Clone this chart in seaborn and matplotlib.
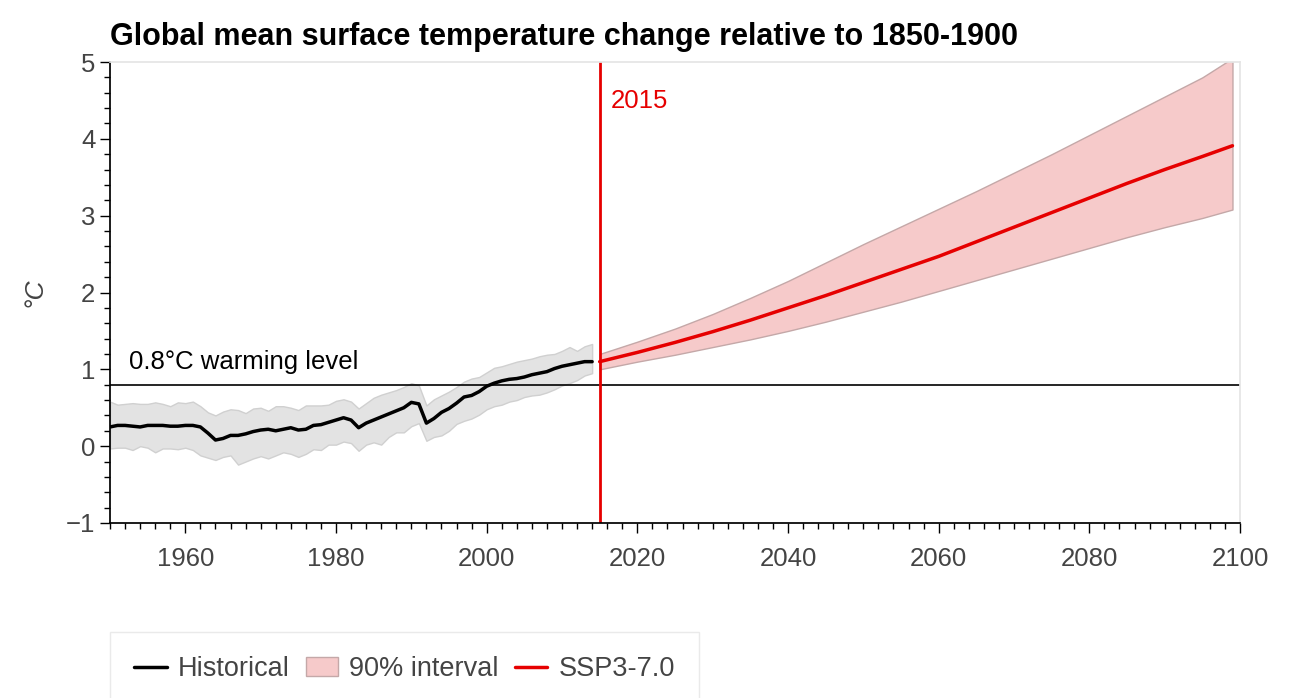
import numpy as np
import pandas as pd
import matplotlib
matplotlib.use("Agg")
import matplotlib.pyplot as plt
import seaborn as sns
from matplotlib.ticker import MultipleLocator

hist_years = list(range(1950, 2015))
hist_mean = [0.25, 0.27, 0.27, 0.26, 0.25, 0.27, 0.27, 0.27, 0.26, 0.26,
             0.27, 0.27, 0.25, 0.17, 0.08, 0.10, 0.14, 0.14, 0.16, 0.19,
             0.21, 0.22, 0.20, 0.22, 0.24, 0.21, 0.22, 0.27, 0.28, 0.31,
             0.34, 0.37, 0.34, 0.24, 0.30, 0.34, 0.38, 0.42, 0.46, 0.50,
             0.57, 0.55, 0.30, 0.36, 0.44, 0.49, 0.56, 0.64, 0.66, 0.71,
             0.78, 0.82, 0.85, 0.87, 0.88, 0.90, 0.93, 0.95, 0.97, 1.01,
             1.04, 1.06, 1.08, 1.10, 1.10]
hist_low = [-0.03, -0.02, -0.02, -0.05, 0.00, -0.02, -0.08, -0.03, -0.03, -0.04,
            -0.02, -0.05, -0.12, -0.15, -0.18, -0.14, -0.12, -0.24, -0.20, -0.16,
            -0.13, -0.16, -0.12, -0.08, -0.10, -0.14, -0.10, -0.04, -0.05, 0.02,
            0.02, 0.06, 0.04, -0.06, 0.02, 0.05, 0.02, 0.12, 0.18, 0.18,
            0.26, 0.30, 0.07, 0.12, 0.14, 0.20, 0.29, 0.33, 0.36, 0.41,
            0.48, 0.52, 0.54, 0.58, 0.60, 0.64, 0.66, 0.67, 0.70, 0.74,
            0.79, 0.82, 0.86, 0.92, 0.95]
hist_high = [0.58, 0.54, 0.55, 0.56, 0.55, 0.55, 0.57, 0.55, 0.52, 0.57,
             0.56, 0.58, 0.52, 0.44, 0.40, 0.45, 0.48, 0.47, 0.43, 0.49,
             0.50, 0.46, 0.52, 0.52, 0.50, 0.47, 0.53, 0.53, 0.53, 0.54,
             0.59, 0.61, 0.58, 0.49, 0.56, 0.63, 0.67, 0.70, 0.73, 0.77,
             0.82, 0.79, 0.53, 0.61, 0.66, 0.71, 0.77, 0.84, 0.88, 0.90,
             0.96, 1.02, 1.04, 1.07, 1.10, 1.12, 1.14, 1.17, 1.19, 1.20,
             1.24, 1.29, 1.24, 1.30, 1.33]

proj_years = [2015, 2020, 2025, 2030, 2035, 2040, 2045, 2050, 2055, 2060,
              2065, 2070, 2075, 2080, 2085, 2090, 2095, 2099]
proj_mean = [1.10, 1.22, 1.35, 1.49, 1.64, 1.80, 1.96, 2.13, 2.30, 2.47,
             2.66, 2.85, 3.04, 3.23, 3.42, 3.60, 3.77, 3.91]
proj_low = [1.00, 1.10, 1.19, 1.29, 1.39, 1.50, 1.62, 1.75, 1.88, 2.02,
            2.16, 2.30, 2.44, 2.58, 2.72, 2.85, 2.97, 3.08]
proj_high = [1.20, 1.36, 1.53, 1.72, 1.93, 2.15, 2.39, 2.63, 2.86, 3.09,
             3.32, 3.56, 3.80, 4.05, 4.30, 4.55, 4.80, 5.05]

sns.set_theme(style="white")
plt.rcParams['font.family'] = ['Liberation Sans', 'DejaVu Sans']

fig = plt.figure(figsize=(12.98, 6.98), dpi=100)
ax = fig.add_axes([110 / 1298, 1 - 523 / 698, 1130 / 1298, 461 / 698])

hist = pd.DataFrame({"year": hist_years, "mean": hist_mean})
proj = pd.DataFrame({"year": proj_years, "mean": proj_mean})

ax.fill_between(hist_years, hist_low, hist_high, color="#e3e3e3", edgecolor="#d0d0d0", lw=1)
band = ax.fill_between(proj_years, proj_low, proj_high, color="#f6caca", edgecolor="#c4a8a8", lw=1)
sns.lineplot(data=hist, x="year", y="mean", color="black", lw=2.5, ax=ax, legend=False)
sns.lineplot(data=proj, x="year", y="mean", color="#e60000", lw=2.5, ax=ax, legend=False)
h_line, p_line = ax.lines[0], ax.lines[1]

ax.axhline(0.8, color="black", lw=1.2)
ax.axvline(2015, color="#e60000", lw=2)
ax.text(2016.5, 4.4, "2015", color="#e60000", fontsize=18.5)
ax.text(1952.5, 1.0, "0.8°C warming level", color="black", fontsize=18.5)

ax.set_xlim(1950, 2100)
ax.set_ylim(-1, 5)
ax.set_xticks(range(1960, 2101, 20))
ax.xaxis.set_minor_locator(MultipleLocator(2))
ax.yaxis.set_minor_locator(MultipleLocator(0.2))
ax.tick_params(axis="both", which="major", labelsize=18.5, length=7, width=1, color="black",
               labelcolor="#444444", direction="out", bottom=True, left=True)
ax.tick_params(axis="x", which="major", pad=10)
ax.tick_params(axis="both", which="minor", length=4, width=1, color="black", direction="out",
               bottom=True, left=True)
ax.set_xlabel("")
ax.set_ylabel("°C", fontsize=19, style="italic", color="#444444", labelpad=14)
ax.set_title("Global mean surface temperature change relative to 1850-1900",
             fontsize=22, fontweight="bold", loc="left", x=0.0, pad=12, color="black")
for name, sp in ax.spines.items():
    sp.set_color("#e5e5e5")
ax.spines["left"].set_color("black")
ax.spines["bottom"].set_color("black")

leg = fig.legend([h_line, band, p_line], ["Historical", "90% interval", "SSP3-7.0"],
                 loc="upper left", bbox_to_anchor=(110 / 1298, 1 - 632 / 698), ncol=3,
                 fontsize=19.5, frameon=True, fancybox=False, handlelength=1.2,
                 columnspacing=0.6, handletextpad=0.4, borderpad=0.9, borderaxespad=0)
leg.get_frame().set_edgecolor("#e5e5e5")
for t in leg.get_texts():
    t.set_color("#444444")

fig.savefig("out.png", dpi=100)
